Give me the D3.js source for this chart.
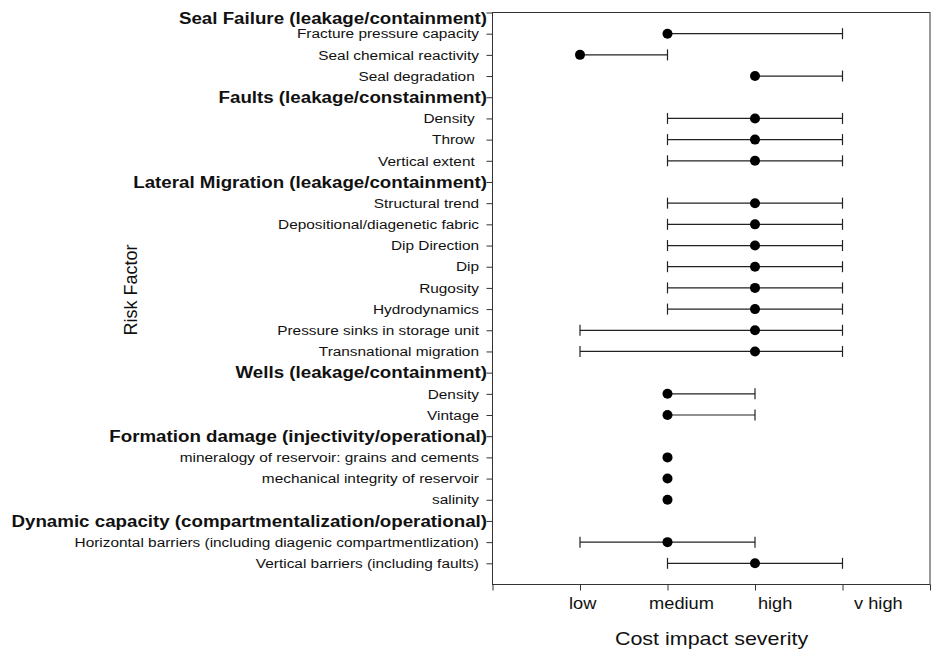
<!DOCTYPE html>
<html>
<head>
<meta charset="utf-8">
<script src="https://cdn.jsdelivr.net/npm/d3@7"></script>
<style>
  html, body { margin: 0; padding: 0; background: #fff; }
  svg { display: block; }
  text { font-family: "Liberation Sans", Arial, sans-serif; fill: #111; white-space: pre; }
</style>
</head>
<body>
<svg id="chart" width="932" height="650"></svg>
<script>
// Risk factor groups, in drawing order
const groups = [
  "Seal Failure (leakage/containment)",
  "Faults (leakage/constainment)",
  "Lateral Migration (leakage/containment)",
  "Wells (leakage/containment)",
  "Formation damage (injectivity/operational)",
  "Dynamic capacity (compartmentalization/operational)"
];

// Individual risk factors and the group each one belongs to
const factors = [
  "Fracture pressure capacity", "Seal chemical reactivity", "Seal degradation ",
  "Density ", "Throw ", "Vertical extent ",
  "Structural trend", "Depositional/diagenetic fabric", "Dip Direction", "Dip",
  "Rugosity", "Hydrodynamics", "Pressure sinks in storage unit", "Transnational migration",
  "Density", "Vintage",
  "mineralogy of reservoir: grains and cements", "mechanical integrity of reservoir", "salinity",
  "Horizontal barriers (including diagenic compartmentlization)", "Vertical barriers (including faults)"
];
const factorGroup = [0,0,0, 1,1,1, 2,2,2,2,2,2,2,2, 3,3, 4,4,4, 5,5];

// Cost impact severity (1 = low, 2 = medium, 3 = high, 4 = v high) with its range
const severity     = [2,1,3, 3,3,3, 3,3,3,3,3,3,3,3, 2,2, 2,2,2, 2,3];
const severityLow  = [2,1,3, 2,2,2, 2,2,2,2,2,2,1,1, 2,2, 2,2,2, 1,2];
const severityHigh = [4,2,4, 4,4,4, 4,4,4,4,4,4,4,4, 3,3, 2,2,2, 3,4];

// Severity axis labels and where they sit along the axis
const tickLabels  = ["low", "medium", "high", "v high"];
const tickLabelAt = [1.03, 2.16, 3.23, 4.41];

// Build the row list: each group header followed by its factors
const rows = [];
groups.forEach((g, gi) => {
  rows.push({ label: g, header: true });
  factors.forEach((f, i) => {
    if (factorGroup[i] === gi) {
      rows.push({ label: f, header: false, v: severity[i], lo: severityLow[i], hi: severityHigh[i] });
    }
  });
});
rows.forEach((r, i) => r.row = i);

const svg = d3.select("#chart");
const plotLeft = 492.5, plotRight = 930, plotTop = 12.5, plotBottom = 584.5;

const x = d3.scaleLinear().domain([0, 5]).range([plotLeft, plotRight]);
const y = d3.scaleLinear().domain([0, rows.length]).range([plotTop, plotBottom]);

const axisColor = "#333";

// Horizontally widened text, as in the original typesetting
function wideText(parent, px, py, str, opts) {
  const g = parent.append("g")
    .attr("transform", `translate(${px},${py}) scale(${opts.sx || 1},1)`);
  return g.append("text")
    .attr("text-anchor", opts.anchor || "end")
    .attr("dy", opts.dy || "0.35em")
    .style("font-size", opts.size + "px")
    .style("font-weight", opts.weight || "normal")
    .text(str);
}

// Bottom axis ticks
const xAxis = d3.axisBottom(x).tickValues(d3.range(0, 6)).tickFormat("").tickSize(6).tickSizeOuter(0);
const gx = svg.append("g").attr("transform", `translate(0,${plotBottom})`).call(xAxis);
gx.select(".domain").remove();
gx.selectAll(".tick line").attr("stroke", axisColor);

// Left axis ticks, one per row
const yAxis = d3.axisLeft(y).tickValues(d3.range(0, rows.length)).tickFormat("").tickSize(6).tickSizeOuter(0);
const gy = svg.append("g").attr("transform", `translate(${plotLeft},0)`).call(yAxis);
gy.select(".domain").remove();
gy.selectAll(".tick line").attr("stroke", axisColor);

// Plot frame
svg.append("rect")
  .attr("x", plotLeft).attr("y", plotTop)
  .attr("width", plotRight - plotLeft).attr("height", plotBottom - plotTop)
  .attr("fill", "none").attr("stroke", axisColor).attr("stroke-width", 1);

// Row labels
const labels = svg.append("g");
rows.forEach(r => {
  if (r.header) {
    wideText(labels, plotLeft - 5.5, Math.max(y(r.row), 18), r.label, { size: 16.3, sx: 1.15, weight: "bold" });
  } else {
    wideText(labels, plotLeft - 13.5, y(r.row), r.label, { size: 13.5, sx: 1.14 });
  }
});

// Severity labels
tickLabels.forEach((t, i) => {
  wideText(svg, x(tickLabelAt[i]), 609, t, { size: 16, sx: 1.14, anchor: "middle", dy: "0" });
});

// Axis titles
wideText(svg, 711.5, 645, "Cost impact severity", { size: 19, sx: 1.13, anchor: "middle", dy: "0" });
svg.append("text")
  .attr("transform", `translate(137,290) rotate(-90)`)
  .attr("text-anchor", "middle")
  .style("font-size", "18px")
  .text("Risk Factor");

// Range bars with end caps
const items = rows.filter(r => !r.header);
const bars = svg.append("g").attr("stroke", "#222").attr("stroke-width", 1.2);
items.forEach(r => {
  const cy = y(r.row);
  if (r.hi > r.lo) {
    bars.append("line").attr("x1", x(r.lo)).attr("x2", x(r.hi)).attr("y1", cy).attr("y2", cy);
  }
  if (r.lo < r.v) {
    bars.append("line").attr("x1", x(r.lo)).attr("x2", x(r.lo)).attr("y1", cy - 5.5).attr("y2", cy + 5.5);
  }
  if (r.hi > r.v) {
    bars.append("line").attr("x1", x(r.hi)).attr("x2", x(r.hi)).attr("y1", cy - 5.5).attr("y2", cy + 5.5);
  }
});

// Severity points
svg.append("g").selectAll("circle")
  .data(items)
  .join("circle")
  .attr("cx", d => x(d.v))
  .attr("cy", d => y(d.row))
  .attr("r", 5)
  .attr("fill", "#000");
</script>
</body>
</html>
